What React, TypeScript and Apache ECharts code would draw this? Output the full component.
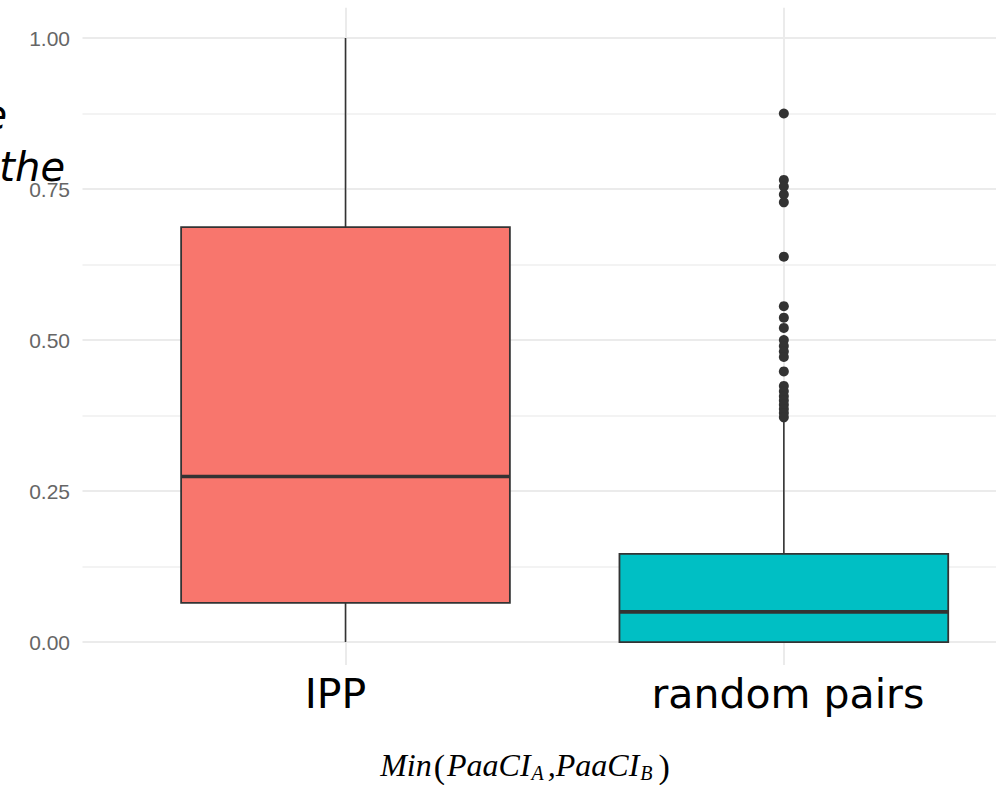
import React, { useEffect, useRef } from 'react';
import * as echarts from 'echarts';

// Group names on the x axis
const groups = ['IPP', 'random pairs'];
// Box statistics per group: [lower whisker, Q1, median, Q3, upper whisker]
const ippStats = [0.0, 0.065, 0.274, 0.687, 1.0];
const randomStats = [0.0, 0.0, 0.05, 0.146, 0.365];
const boxColors = ['#F8766D', '#00BFC4'];
// Outlying points of the "random pairs" group
const randomOutliers = [
  0.875, 0.765, 0.754, 0.741, 0.728, 0.638, 0.556, 0.537, 0.52, 0.5, 0.49,
  0.481, 0.472, 0.448, 0.424, 0.415, 0.407, 0.4, 0.393, 0.386, 0.379, 0.372,
];
// Y axis tick values
const majorTicks = [0, 0.25, 0.5, 0.75, 1];
const minorTicks = [0.125, 0.375, 0.625, 0.875];

const STROKE = '#333333';
const LABEL_FONT = { fontFamily: 'DejaVu Sans', fontSize: 41, lineHeight: 41, color: '#000000' };

export default function App() {
  const ref = useRef<HTMLDivElement>(null);

  useEffect(() => {
    if (!ref.current) return;
    const chart = echarts.init(ref.current, null, { renderer: 'svg' });
    const stats = [ippStats, randomStats];
    const boxData = groups.map((_, i) => [i + 1, ...stats[i]]);
    const outlierData = randomOutliers.map((v) => [2, v]);

    const yMin = -0.038;
    const yMax = 1.05;

    chart.setOption({
      animation: false,
      backgroundColor: '#ffffff',
      grid: { left: 82.5, right: 0, top: 7.8, bottom: 120, containLabel: false },
      xAxis: {
        type: 'value',
        min: 0.4,
        max: 2.484,
        axisLine: { show: false },
        axisTick: { show: false, customValues: [1, 2] },
        axisLabel: {
          customValues: [1, 2],
          formatter: (v: number) => {
            const i = Math.round(v) - 1;
            return i === 0 ? `{g0|${groups[0]}}` : `{g1|${groups[1]}}`;
          },
          ...LABEL_FONT,
          margin: 8,
          rich: {
            g0: { ...LABEL_FONT, padding: [0, 20, 0, 0] },
            g1: { ...LABEL_FONT, padding: [0, 0, 0, 8] },
          },
        },
        splitLine: { show: true, lineStyle: { color: '#ebebeb', width: 2 } },
      },
      yAxis: [
        {
          type: 'value',
          min: yMin,
          max: yMax,
          axisLine: { show: false },
          axisTick: { show: false, customValues: majorTicks },
          axisLabel: {
            customValues: majorTicks,
            formatter: (v: number) => v.toFixed(2),
            fontFamily: 'Liberation Sans',
            fontSize: 21,
            color: '#666666',
            margin: 12.5,
          },
          splitLine: { show: true, lineStyle: { color: '#ebebeb', width: 2 } },
        },
        {
          type: 'value',
          min: yMin,
          max: yMax,
          position: 'left',
          axisLine: { show: false },
          axisTick: { show: false, customValues: minorTicks },
          axisLabel: { show: false },
          splitLine: { show: true, lineStyle: { color: '#efefef', width: 1.5 } },
        },
      ],
      series: [
        {
          type: 'custom',
          xAxisIndex: 0,
          yAxisIndex: 0,
          encode: { x: 0, y: [1, 2, 3, 4, 5] },
          data: boxData,
          z: 3,
          renderItem: (params: any, api: any) => {
            const x = api.value(0);
            const lo = api.coord([x, api.value(1)]);
            const q1 = api.coord([x, api.value(2)]);
            const med = api.coord([x, api.value(3)]);
            const q3 = api.coord([x, api.value(4)]);
            const hi = api.coord([x, api.value(5)]);
            const half = api.size([0.75, 0])[0] / 2;
            const cx = med[0];
            return {
              type: 'group',
              children: [
                {
                  type: 'line',
                  shape: { x1: cx, y1: hi[1], x2: cx, y2: q3[1] },
                  style: { stroke: STROKE, lineWidth: 1.6 },
                },
                {
                  type: 'line',
                  shape: { x1: cx, y1: q1[1], x2: cx, y2: lo[1] },
                  style: { stroke: STROKE, lineWidth: 1.6 },
                },
                {
                  type: 'rect',
                  shape: { x: cx - half, y: q3[1], width: half * 2, height: q1[1] - q3[1] },
                  style: { fill: boxColors[params.dataIndex], stroke: STROKE, lineWidth: 1.8 },
                },
                {
                  type: 'line',
                  shape: { x1: cx - half, y1: med[1], x2: cx + half, y2: med[1] },
                  style: { stroke: STROKE, lineWidth: 3.6 },
                },
              ],
            };
          },
        },
        {
          type: 'scatter',
          xAxisIndex: 0,
          yAxisIndex: 0,
          data: outlierData,
          symbol: 'circle',
          symbolSize: 10,
          itemStyle: { color: STROKE, opacity: 1 },
          z: 4,
        },
      ],
      graphic: [
        {
          type: 'text',
          x: 7,
          y: 115,
          style: {
            text: 'e',
            fontFamily: 'DejaVu Sans',
            fontStyle: 'italic',
            fontSize: 40,
            fill: '#000000',
            align: 'right',
            verticalAlign: 'middle',
          },
        },
        {
          type: 'text',
          x: 65,
          y: 167,
          style: {
            text: 'the',
            fontFamily: 'DejaVu Sans',
            fontStyle: 'italic',
            fontSize: 40,
            fill: '#000000',
            align: 'right',
            verticalAlign: 'middle',
          },
        },
        {
          type: 'text',
          x: 526,
          y: 749,
          style: {
            text: '{it|Min}{par|(}{it|PaaCI}{sub|A}{it|,PaaCI}{sub|B}{par|)}',
            align: 'center',
            verticalAlign: 'top',
            fill: '#000000',
            rich: {
              it: {
                fontFamily: 'Liberation Serif',
                fontStyle: 'italic',
                fontSize: 32,
                lineHeight: 32,
                verticalAlign: 'top',
                fill: '#000000',
              },
              par: {
                fontFamily: 'Liberation Serif',
                fontSize: 34,
                lineHeight: 34,
                verticalAlign: 'top',
                fill: '#000000',
                padding: [0, 2, 0, 2],
              },
              sub: {
                fontFamily: 'Liberation Serif',
                fontStyle: 'italic',
                fontSize: 20,
                lineHeight: 20,
                verticalAlign: 'top',
                padding: [14, 4, 0, 1],
                fill: '#000000',
              },
            },
          },
        },
      ],
    });

    return () => chart.dispose();
  }, []);

  return (
    <div
      ref={ref}
      style={{ position: 'absolute', left: 0, top: 0, width: 996, height: 785 }}
    />
  );
}
